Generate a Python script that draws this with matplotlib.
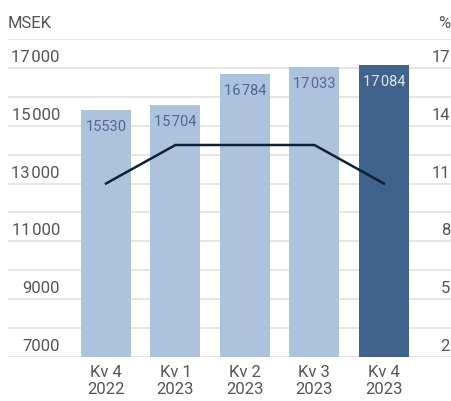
import matplotlib.pyplot as plt
import matplotlib.transforms as mtransforms

# data
quarters = ['Kv 4\n2022', 'Kv 1\n2023', 'Kv 2\n2023', 'Kv 3\n2023', 'Kv 4\n2023']
sales = [15530, 15704, 16784, 17033, 17084]
sales_labels = ['15530', '15\u200a704', '16\u200a784', '17\u200a033', '17\u200a084']
margin = [11, 13, 13, 13, 11]
left_ticks = [7000, 9000, 11000, 13000, 15000, 17000]
left_tick_labels = ['7000', '9000', '11\u200a000', '13\u200a000', '15\u200a000', '17\u200a000']
right_ticks = [2, 5, 8, 11, 14, 17]

LIGHT = '#adc2dd'
DARK = '#41628c'
LINE = '#0d2236'
GRID = '#e6e6e6'
TXT = '#555555'

plt.rcParams['font.family'] = ['Roboto', 'DejaVu Sans']

W, H = 452, 401
fig = plt.figure(figsize=(W / 100, H / 100), dpi=100)
x0, x1, ytop, ybot = 8, 452, 39, 357
ax = fig.add_axes([x0 / W, 1 - ybot / H, (x1 - x0) / W, (ybot - ytop) / H])

x = list(range(len(quarters)))
colors = [LIGHT] * (len(x) - 1) + [DARK]
ax.bar(x, sales, width=0.72, color=colors, zorder=2)
ax.set_ylim(7000, 18000)
ax.set_xlim(-1.41, 4.98)

# gridlines every 1000
for v in range(7000, 18001, 1000):
    ax.axhline(v, color=GRID, lw=1.4, zorder=1)

for s in ax.spines.values():
    s.set_visible(False)
ax.set_yticks([])
ax.set_xticks(x)
ax.set_xticklabels(quarters, fontsize=12, color=TXT, linespacing=1.1)
ax.tick_params(axis='x', length=0, pad=6)

# bar value labels
for i, (v, lab) in enumerate(zip(sales, sales_labels)):
    c = '#dfe6f0' if i == len(x) - 1 else '#4d6a92'
    ax.annotate(lab, (i, v), xytext=(0, -17), textcoords='offset pixels',
                ha='center', va='center', fontsize=10.5, color=c, zorder=3)

# left axis labels (sitting on their gridline)
trans_l = mtransforms.blended_transform_factory(ax.transAxes, ax.transData)
off = mtransforms.ScaledTranslation(0, 3 / 100, fig.dpi_scale_trans)
for v, lab in zip(left_ticks, left_tick_labels):
    ax.text((60 - x0) / (x1 - x0), v, lab, transform=trans_l + off,
            ha='right', va='bottom', fontsize=12, color=TXT)

# margin line on twin axis
ax2 = ax.twinx()
ax2.set_ylim(2, 18.5)
ax2.plot(x, margin, color=LINE, lw=1.8, zorder=4)
ax2.set_yticks([])
for s in ax2.spines.values():
    s.set_visible(False)
trans_r = mtransforms.blended_transform_factory(ax2.transAxes, ax2.transData)
for v in right_ticks:
    ax2.text((450 - x0) / (x1 - x0), v, str(v), transform=trans_r + off,
             ha='right', va='bottom', fontsize=12, color=TXT)

fig.text(8 / W, 1 - 23 / H, 'MSEK', ha='left', va='center', fontsize=12, color=TXT)
fig.text(450 / W, 1 - 23 / H, '%', ha='right', va='center', fontsize=12, color=TXT)

fig.savefig('out.png', dpi=100)
